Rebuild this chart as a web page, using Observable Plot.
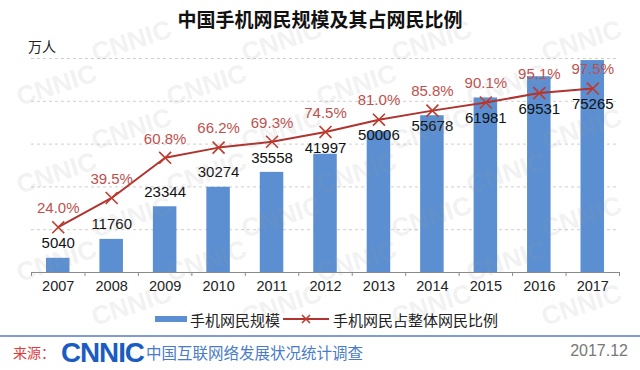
<!DOCTYPE html>
<html>
<head>
<meta charset="utf-8">
<script src="https://cdn.jsdelivr.net/npm/d3@7"></script>
<script src="https://cdn.jsdelivr.net/npm/@observablehq/plot@0.6"></script>
<style>
  html, body { margin: 0; padding: 0; background: #fff; }
  #wrap { position: relative; width: 640px; height: 370px; overflow: hidden; background: #fff;
          font-family: "Liberation Sans", "Noto Sans CJK SC", sans-serif; }
  #chart { position: absolute; left: 0; top: 0; }
  .abs { position: absolute; white-space: nowrap; }
  #title { left: 0; width: 640px; top: 5px; text-align: center; font-family: "Noto Sans CJK SC"; font-weight: 700; font-size: 19px; color: #111; }
  #unit { left: 28px; top: 36px; font-family: "Noto Sans CJK SC"; font-size: 14px; color: #222; }
  #legend { left: 155px; top: 309px; height: 20px; font-family: "Noto Sans CJK SC"; font-size: 15px; color: #222; display: flex; align-items: center; }
  #sep { left: 0; top: 335px; width: 640px; height: 2px; background: #7f9dcc; }
  #src { left: 13px; top: 342px; font-family: "Noto Sans CJK SC"; font-size: 14px; color: #e23b3b; }
  #logo { left: 61px; top: 338px; font-family: "Liberation Sans"; font-weight: 900; font-size: 27px; color: #1a5cbf; letter-spacing: -1px; transform: scaleX(1.03); transform-origin: left; }
  #survey { left: 146px; top: 341px; font-family: "Noto Sans CJK SC"; font-size: 15.5px; color: #4a7bc8; }
  #date { right: 12px; top: 342px; font-family: "Liberation Sans"; font-size: 16px; color: #777; }
  #wm { position: absolute; left: 0; top: 0; pointer-events: none; }
</style>
</head>
<body>
<div id="wrap">
  <div id="chart"></div>
  <div id="title" class="abs">中国手机网民规模及其占网民比例</div>
  <div id="unit" class="abs">万人</div>
  <div id="legend" class="abs"></div>
  <div id="sep" class="abs"></div>
  <div id="src" class="abs">来源：</div>
  <div id="logo" class="abs">CNNIC</div>
  <div id="survey" class="abs">中国互联网络发展状况统计调查</div>
  <div id="date" class="abs">2017.12</div>
</div>
<script>
// ---- data ----
const years = [2007, 2008, 2009, 2010, 2011, 2012, 2013, 2014, 2015, 2016, 2017];
const users = [5040, 11760, 23344, 30274, 35558, 41997, 50006, 55678, 61981, 69531, 75265];
const share = [24.0, 39.5, 60.8, 66.2, 69.3, 74.5, 81.0, 85.8, 90.1, 95.1, 97.5];
const seriesNames = ["手机网民规模", "手机网民占整体网民比例"];

const data = years.map((year, i) => ({year, users: users[i], share: share[i]}));

const YMAX = 76000;          // hidden primary axis maximum
const K = 670;               // secondary axis (percent) mapped onto primary units
const PX = YMAX / 214;       // data units per pixel of plot height
const BAR = "#5b8fd1", LINE = "#b0332e", MARK = "#c0392b", PCT = "#c0504d";

const chart = Plot.plot({
  width: 640, height: 370,
  marginTop: 58, marginBottom: 98, marginLeft: 31, marginRight: 21,
  style: {fontFamily: "Liberation Sans, sans-serif", fontSize: "14px", color: "#222", background: "transparent"},
  x: {domain: [years[0] - 0.5, years[years.length - 1] + 0.5]},
  y: {domain: [0, YMAX], axis: null},
  marks: [
    Plot.ruleY(d3.range(0, YMAX + 1, YMAX / 5), {stroke: "#cfcfcf", strokeDasharray: "3,3"}),
    Plot.rectY(data, {x1: d => d.year - 0.22, x2: d => d.year + 0.22, y: "users", fill: BAR}),
    Plot.ruleY([0], {stroke: "#8a8a8a"}),
    Plot.ruleX(years.map(y => y - 0.5).concat([years[years.length - 1] + 0.5]), {y1: 0, y2: -4 * PX, stroke: "#8a8a8a"}),
    Plot.axisX({ticks: years, tickFormat: "d", tickSize: 0, tickPadding: 8, fontSize: 14.5, fill: "#222", label: null}),
    Plot.line(data, {x: "year", y: d => d.share * K, stroke: LINE, strokeWidth: 2}),
    Plot.dot(data, {x: "year", y: d => d.share * K, symbol: "times", r: 5.5, stroke: MARK, strokeWidth: 1.6}),
    Plot.text(data, {x: "year", y: d => d.share * K, text: d => d.share.toFixed(1) + "%", dy: -19, fill: PCT, fontSize: 15}),
    Plot.text(data, {x: "year", y: d => Math.min(d.users, d.share * K - 31 * PX), text: d => String(d.users), dy: -15, fill: "#111", fontSize: 15})
  ]
});
document.getElementById("chart").append(chart);

// ---- legend ----
const lg = document.getElementById("legend");
lg.innerHTML =
  `<svg width="32" height="8"><rect x="0" y="1" width="32" height="6" fill="${BAR}"/></svg>` +
  `<span style="margin-left:3px">${seriesNames[0]}</span>` +
  `<svg width="46" height="12" style="margin-left:3px"><line x1="0" y1="6" x2="46" y2="6" stroke="${LINE}" stroke-width="2"/>` +
  `<path d="M19 2L27 10M27 2L19 10" stroke="${MARK}" stroke-width="1.6"/></svg>` +
  `<span style="margin-left:4px">${seriesNames[1]}</span>`;

// ---- watermark (kept fully inside the picture) ----
const wm = d3.select("#wrap").append("svg").attr("id", "wm").attr("width", 640).attr("height", 370);
for (let r = 0; r < 9; r++) {
  for (let c = -1; c < 6; c++) {
    const x = c * 150 + (r % 2) * 75 + 20, y = r * 44 + 18;
    const t = wm.append("text").attr("x", x).attr("y", y)
      .attr("transform", `rotate(-18 ${x} ${y})`)
      .attr("font-family", "Liberation Sans").attr("font-weight", 900).attr("font-size", 26)
      .attr("fill", "#9a9a9a").attr("fill-opacity", 0.15).text("CNNIC");
    const b = t.node().getBoundingClientRect();
    if (b.left < 1 || b.top < 1 || b.right > 639 || b.bottom > 369) t.remove();
  }
}
</script>
</body>
</html>
